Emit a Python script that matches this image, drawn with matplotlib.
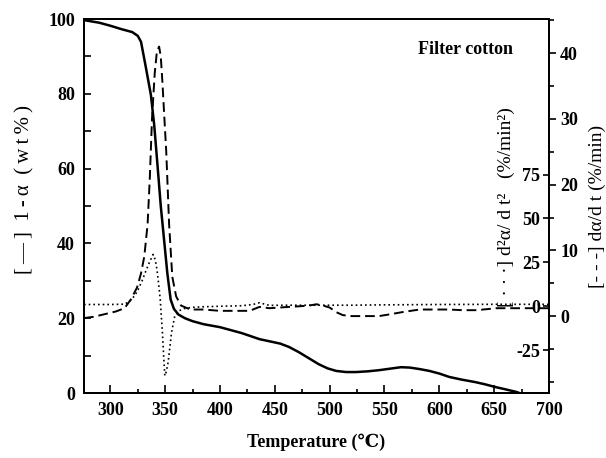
import matplotlib
matplotlib.use('Agg')
import matplotlib.pyplot as plt
import numpy as np
from matplotlib.ticker import MultipleLocator

plt.rcParams['font.family'] = ['Liberation Serif', 'DejaVu Serif']
plt.rcParams['font.weight'] = 'bold'
plt.rcParams['axes.unicode_minus'] = False

# --- data ---
# 1-alpha (wt%), solid line
T_mass = [276, 290, 300, 310, 320, 325, 328, 332, 337, 340, 343, 346, 349, 352, 355,
          358, 362, 368, 375, 385, 400, 420, 436, 455, 463, 472, 481, 490, 498, 506,
          515, 524, 535, 545, 555, 565, 573, 582, 591, 600, 609, 620, 633, 642, 651,
          660, 670, 673]
mass = [99.7, 99.0, 98.2, 97.3, 96.5, 95.5, 93.9, 87.7, 79.7, 71.7, 61.0, 50.0, 41.0, 32.0, 25.0,
        22.5, 21.0, 20.0, 19.2, 18.4, 17.6, 16.0, 14.4, 13.2, 12.3, 10.9, 9.3, 7.7, 6.6, 5.9,
        5.6, 5.6, 5.8, 6.1, 6.5, 6.9, 6.8, 6.4, 5.9, 5.2, 4.3, 3.6, 2.9, 2.3, 1.6,
        1.0, 0.3, 0.0]

# d(alpha)/dt (%/min), dashed line
T_d1 = [276, 285, 295, 305, 313, 319, 324.5, 328, 331, 334, 336, 338, 340.5, 342.5, 344.5,
        346, 347.5, 349, 351, 353.6, 356.5, 360, 364.5, 373, 385, 400, 415, 427, 436,
        445, 454, 463, 473, 481, 488, 494, 500, 506, 512, 520, 530, 545, 556, 566,
        582, 595, 609, 621, 634, 652, 665, 679, 700]
d1 = [-0.3, -0.1, 0.3, 0.7, 1.2, 2.6, 4.4, 6.5, 9.1, 14.0, 21.0, 30.0, 37.0, 40.3, 41.0,
      39.5, 35.6, 31.0, 25.0, 14.0, 6.0, 3.0, 1.6, 1.0, 1.0, 0.8, 0.8, 0.8, 1.4,
      1.2, 1.3, 1.4, 1.5, 1.6, 1.8, 1.6, 1.3, 0.6, 0.15, 0.0, 0.0, 0.0, 0.3, 0.6,
      1.0, 1.0, 1.0, 0.9, 0.9, 1.2, 1.2, 1.2, 1.2]

# d2(alpha)/dt2 (%/min2), dotted line
T_d2 = [276, 300, 313, 318, 322, 325, 329.5, 332, 335.5, 339, 341, 342.5, 344, 345.5, 347.5,
        348.7, 349.7, 350.7, 352.7, 355.8, 358.8, 363, 367.3, 375, 385, 400, 420, 430,
        436, 445, 460, 480, 500, 520, 550, 600, 650, 700]
d2 = [1.0, 1.0, 1.2, 3.0, 5.9, 9.0, 15.3, 19.5, 24.8, 29.5, 26.5, 21.0, 13.0, 4.0, -15.0,
      -29.0, -39.6, -38.0, -32.0, -15.0, -5.5, -2.5, -1.3, -0.6, -0.3, 0.0, 0.3, 1.0,
      2.0, 0.5, 0.6, 0.6, 0.6, 0.6, 0.8, 1.0, 1.1, 1.1]

x_ticks = [300, 350, 400, 450, 500, 550, 600, 650, 700]
mass_ticks = [0, 20, 40, 60, 80, 100]
d1_ticks = [0, 10, 20, 30, 40]
d2_ticks = [-25, 0, 25, 50, 75]

fig = plt.figure(figsize=(6.06, 4.58), dpi=100)
ax = fig.add_axes([84 / 606, 1 - 393 / 458, (549 - 84) / 606, (393 - 19) / 458])
ax2 = ax.twinx()
ax3 = ax.twinx()

ax.plot(T_mass, mass, color='black', lw=1.8, solid_capstyle='butt')
ax2.plot(T_d1, d1, color='black', lw=1.4, linestyle=(0, (5, 2.5)))
ax3.plot(T_d2, d2, color='black', lw=1.2, linestyle=(0, (1, 1.8)))

ax.set_xlim(276, 700)
ax.set_ylim(0, 100)
ax2.set_ylim(-11.7, 45.2)
ax3.set_ylim(-49.4, 163.6)

# main axis ticks
ax.set_xticks(x_ticks)
ax.xaxis.set_minor_locator(MultipleLocator(25))
ax.set_yticks(mass_ticks)
ax.yaxis.set_minor_locator(MultipleLocator(10))
ax.tick_params(axis='both', which='both', direction='in', top=False, right=False,
               labelsize=13, width=1.2)
ax.tick_params(axis='x', which='major', length=6, pad=6.5)
ax.tick_params(axis='x', which='minor', length=3)
ax.tick_params(axis='y', which='major', length=5, pad=6.5)
ax.tick_params(axis='y', which='minor', length=5)

# d(alpha)/dt axis, outside
ax2.set_yticks(d1_ticks)
ax2.yaxis.set_minor_locator(MultipleLocator(5))
ax2.tick_params(axis='y', which='both', direction='out', labelsize=13, width=1.2)
ax2.tick_params(axis='y', which='major', length=5, pad=3)
ax2.tick_params(axis='y', which='minor', length=3.5)

# d2(alpha)/dt2 axis, inside
ax3.set_yticks(d2_ticks)
ax3.tick_params(axis='y', which='major', direction='in', length=4.5, width=1.2,
                labelsize=13, pad=-6.5)
for lab in ax3.get_yticklabels():
    lab.set_horizontalalignment('right')

for a in (ax, ax2, ax3):
    for s in a.spines.values():
        s.set_linewidth(1.4)

ts = '\u2009'  # thin space, the scan has wide letter spacing
fig.text(25 / 606, 1 - 190 / 458, ts.join('[—]') + '  ' + ts.join('1-α') + '  ' + ts.join('(wt%)'),
         rotation=90, ha='center', va='center', fontsize=15, fontweight='normal')
fig.text(506 / 606, 1 - 207 / 458, '[ · · ·] d²α/ d t²   (%/min²)', rotation=90,
         ha='center', va='center', fontsize=14, fontweight='normal')
fig.text(597 / 606, 1 - 206 / 458, '[- - -] dα/d t (%/min)', rotation=90,
         ha='center', va='center', fontsize=14, fontweight='normal')
fig.text(316 / 606, 1 - 442 / 458, 'Temperature (℃)', ha='center', va='center',
         fontsize=13, fontweight='bold')
fig.text(465 / 606, 1 - 50 / 458, 'Filter cotton', ha='center', va='center',
         fontsize=13, fontweight='bold')

fig.savefig('out.png', dpi=100)
